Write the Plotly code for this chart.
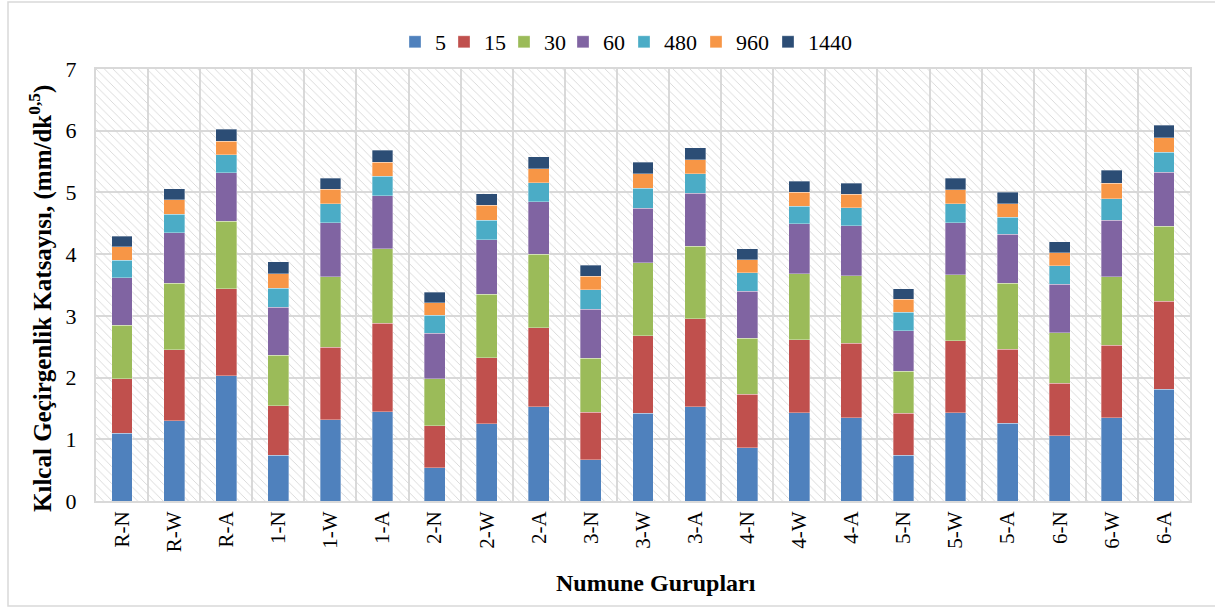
import plotly.graph_objects as go

# Sample groups on the category axis
groups = ["R-N", "R-W", "R-A", "1-N", "1-W", "1-A", "2-N", "2-W", "2-A",
          "3-N", "3-W", "3-A", "4-N", "4-W", "4-A", "5-N", "5-W", "5-A",
          "6-N", "6-W", "6-A"]

# Stacked contributions for each time step (mm/dk^0.5)
t5 = [1.10, 1.30, 2.03, 0.74, 1.32, 1.45, 0.54, 1.25, 1.53, 0.67, 1.42,
      1.53, 0.86, 1.43, 1.35, 0.74, 1.43, 1.26, 1.06, 1.35, 1.81]
t15 = [0.88, 1.15, 1.41, 0.80, 1.17, 1.43, 0.68, 1.07, 1.28, 0.77, 1.26,
       1.42, 0.87, 1.18, 1.21, 0.68, 1.17, 1.20, 0.85, 1.17, 1.43]
t30 = [0.87, 1.08, 1.09, 0.82, 1.14, 1.21, 0.76, 1.03, 1.19, 0.87, 1.18,
       1.18, 0.91, 1.07, 1.09, 0.68, 1.07, 1.07, 0.82, 1.11, 1.21]
t60 = [0.77, 0.82, 0.79, 0.78, 0.88, 0.86, 0.74, 0.88, 0.85, 0.80, 0.88,
       0.86, 0.76, 0.81, 0.81, 0.66, 0.84, 0.79, 0.78, 0.92, 0.88]
t480 = [0.28, 0.30, 0.29, 0.31, 0.31, 0.31, 0.29, 0.32, 0.31, 0.31, 0.33,
        0.31, 0.30, 0.29, 0.29, 0.30, 0.31, 0.28, 0.30, 0.35, 0.32]
t960 = [0.22, 0.23, 0.22, 0.23, 0.23, 0.23, 0.20, 0.24, 0.22, 0.22, 0.23,
        0.23, 0.21, 0.22, 0.22, 0.21, 0.22, 0.22, 0.21, 0.25, 0.24]
t1440 = [0.17, 0.18, 0.19, 0.20, 0.18, 0.19, 0.17, 0.19, 0.20, 0.18, 0.19,
         0.19, 0.18, 0.18, 0.18, 0.17, 0.19, 0.18, 0.18, 0.21, 0.20]

series_names = ["5", "15", "30", "60", "480", "960", "1440"]
series_values = [t5, t15, t30, t60, t480, t960, t1440]
series_colors = ["#4F81BD", "#C0504D", "#9BBB59", "#8064A2",
                 "#4BACC6", "#F79646", "#2C4D75"]

y_max = 7
y_ticks = list(range(0, 8))

FONT = "Liberation Serif"
GRID = "#D9D9D9"

# Plot-area geometry in pixels (used to place legend entries and titles)
W, H = 1215, 608
ML, MR, MT, MB = 96, 25, 69, 107
PW, PH = W - ML - MR, H - MT - MB


def px_x(px):
    return (px - ML) / PW


def px_y(py):
    return (H - MB - py) / PH


# Left edge of each legend swatch, one legend box per series
legend_swatch_px = [409, 458, 518, 577, 638, 710, 782]

fig = go.Figure()

# Hatched plot-area background, one full-width cell per category
fig.add_trace(go.Bar(
    x=groups, y=[y_max] * len(groups), width=1,
    marker=dict(color="#D4D4D4", line=dict(width=0),
                pattern=dict(shape="\\", fillmode="replace",
                             size=6, solidity=0.14)),
    showlegend=False, hoverinfo="skip", xaxis="x", yaxis="y",
))

# Stacked data bars drawn on an overlaid pair of axes
legend_ids = ["legend"] + [f"legend{i}" for i in range(2, len(series_names) + 1)]
for name, vals, col, lid in zip(series_names, series_values, series_colors, legend_ids):
    fig.add_trace(go.Bar(
        x=groups, y=vals, name=name, legend=lid,
        marker=dict(color=col, line=dict(width=0.6, color="rgba(255,255,255,0.55)")),
        xaxis="x2", yaxis="y2",
    ))

legend_layout = {}
for lid, sx in zip(legend_ids, legend_swatch_px):
    legend_layout[lid] = dict(
        orientation="h", x=px_x(sx - 14), xanchor="left",
        y=px_y(42), yanchor="middle",
        font=dict(family=FONT, size=22), itemwidth=30,
        bgcolor="rgba(0,0,0,0)", borderwidth=0,
    )

fig.update_layout(
    width=W, height=H,
    margin=dict(l=ML, r=MR, t=MT, b=MB),
    paper_bgcolor="white", plot_bgcolor="white",
    barmode="stack", bargap=0.6,
    font=dict(family=FONT, size=21, color="black"),
    xaxis=dict(
        type="category", categoryarray=groups, range=[-0.5, len(groups) - 0.5],
        tickson="boundaries", showgrid=True, gridcolor=GRID, gridwidth=2,
        showline=True, linecolor=GRID, linewidth=2, mirror=True,
        ticks="", tickangle=-90, tickfont=dict(family=FONT, size=21),
        automargin=False,
    ),
    yaxis=dict(
        range=[0, y_max], tickvals=y_ticks, showgrid=True, gridcolor=GRID,
        gridwidth=2, zeroline=False, showline=True, linecolor=GRID,
        linewidth=2, mirror=True,
        ticks="outside", ticklen=13, tickcolor="rgba(0,0,0,0)",
        tickfont=dict(family=FONT, size=22),
        automargin=False,
    ),
    xaxis2=dict(type="category", categoryarray=groups, overlaying="x",
                range=[-0.5, len(groups) - 0.5], visible=False),
    yaxis2=dict(range=[0, y_max], overlaying="y", visible=False),
    annotations=[
        dict(text="<b>Numune Gurupları</b>", xref="paper", yref="paper",
             x=px_x(656), y=px_y(583), xanchor="center", yanchor="middle",
             showarrow=False, font=dict(family=FONT, size=24)),
        dict(text="<b>Kılcal Geçirgenlik Katsayısı, (mm/dk<sup>0,5</sup>)</b>",
             xref="paper", yref="paper", textangle=-90,
             x=px_x(40.5), y=px_y(298.5), xanchor="center", yanchor="middle",
             showarrow=False, font=dict(family=FONT, size=25)),
    ],
    shapes=[dict(type="rect", xref="paper", yref="paper",
                 x0=px_x(8), x1=px_x(1260), y0=px_y(606), y1=px_y(2),
                 line=dict(color=GRID, width=1.5), layer="below")],
    **legend_layout,
)

fig.write_html("out.html")
